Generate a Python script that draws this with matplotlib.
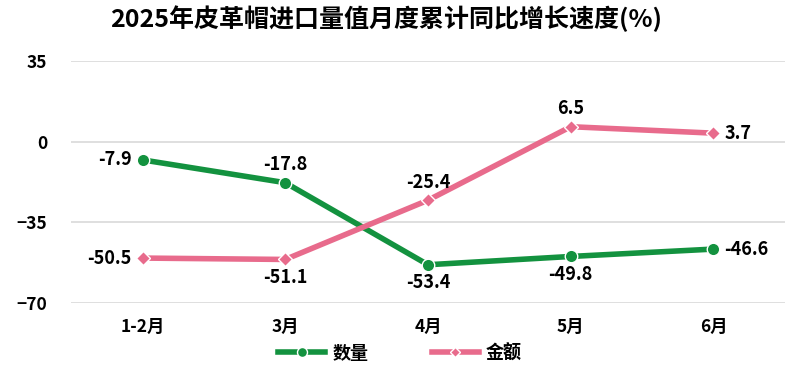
import matplotlib.pyplot as plt

plt.rcParams['font.family'] = ['Noto Sans CJK SC', 'DejaVu Sans']

months = ["1-2月", "3月", "4月", "5月", "6月"]
quantity = [-7.9, -17.8, -53.4, -49.8, -46.6]
amount = [-50.5, -51.1, -25.4, 6.5, 3.7]

# label placement: (dx, dy) in points, ha, va
qty_pos = [(-8, 0, 'right', 'center'), (0, 6, 'center', 'bottom'), (0, -6, 'center', 'top'),
           (0, -6, 'center', 'top'), (8, 0, 'left', 'center')]
amt_pos = [(-8, 0, 'right', 'center'), (0, -6, 'center', 'top'), (0, 6, 'center', 'bottom'),
           (0, 6, 'center', 'bottom'), (8, 0, 'left', 'center')]

green = '#13923f'
pink = '#e86b8c'


def main():
    fig = plt.figure(figsize=(8, 3.79), dpi=100)
    ax = fig.add_axes([0.089, 0.2005, 0.892, 0.6385])
    x = list(range(len(months)))

    ax.plot(x, quantity, color=green, lw=4, marker='o', markersize=9,
            markeredgecolor='white', markeredgewidth=1, label='数量', zorder=3)
    ax.plot(x, amount, color=pink, lw=4, marker='D', markersize=7,
            markeredgecolor='white', markeredgewidth=1, label='金额', zorder=3)

    for vals, pos in ((quantity, qty_pos), (amount, amt_pos)):
        for i, v in enumerate(vals):
            dx, dy, ha, va = pos[i]
            ax.annotate(f"{v}", (i, v), xytext=(dx, dy), textcoords='offset points',
                        ha=ha, va=va, fontsize=13, fontweight='bold')

    ax.set_xlim(-0.5, 4.5)
    ax.set_ylim(-70, 35)
    ax.set_yticks([35, 0, -35, -70])
    ax.set_xticks(x)
    ax.set_xticklabels(months)
    ax.grid(True, axis='y', color='#d9d9d9', lw=1.2)
    ax.set_axisbelow(True)
    for s in ax.spines.values():
        s.set_visible(False)
    ax.tick_params(length=0, labelsize=12.5, pad=11)
    ax.tick_params(axis='y', pad=17)
    for lbl in ax.get_xticklabels() + ax.get_yticklabels():
        lbl.set_fontweight('bold')

    fig.suptitle("2025年皮革帽进口量值月度累计同比增长速度(%)", x=0.483, y=0.985,
                 fontsize=18, fontweight='bold')
    fig.legend(loc='lower center', bbox_to_anchor=(0.5, 0.0), ncol=2, frameon=False,
               prop={'size': 13, 'weight': 'bold'}, handlelength=2.6, markerscale=0.8,
               columnspacing=3.5, handletextpad=0.4)

    fig.savefig('out.png', dpi=100)


if __name__ == "__main__":
    main()
